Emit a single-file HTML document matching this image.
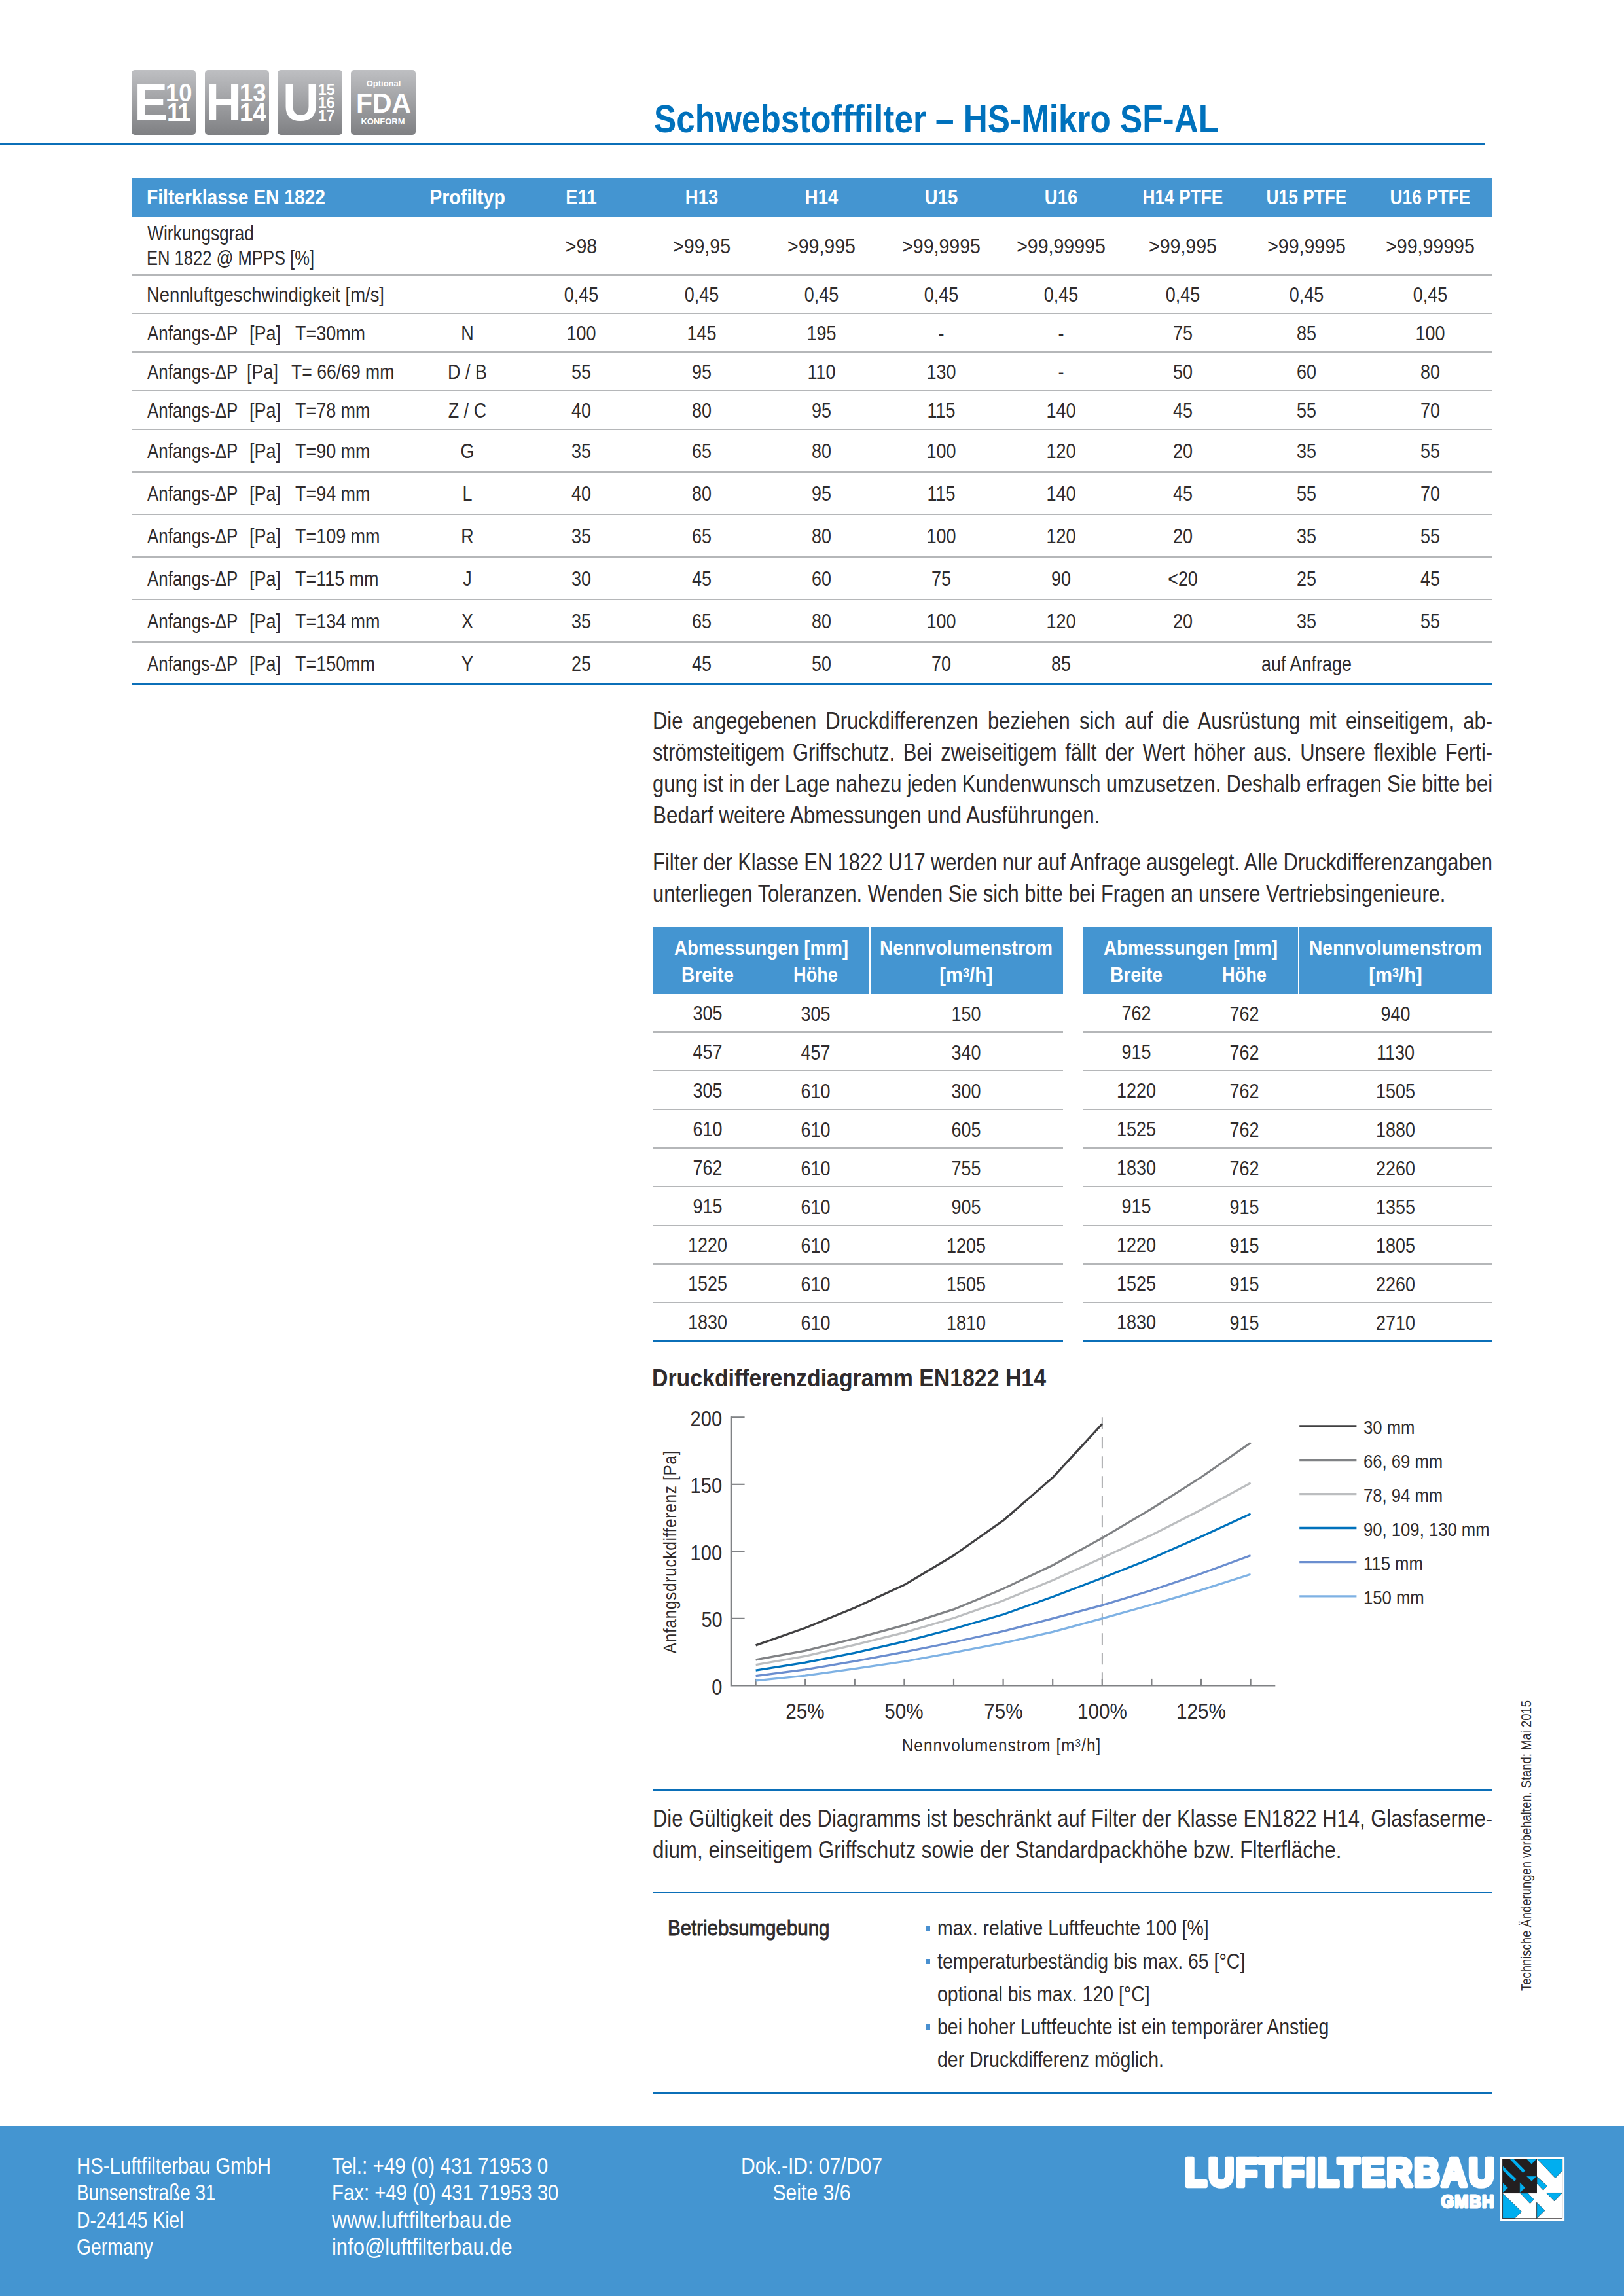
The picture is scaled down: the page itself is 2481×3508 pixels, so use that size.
<!DOCTYPE html>
<html lang="de"><head><meta charset="utf-8"><title>Schwebstofffilter – HS-Mikro SF-AL</title>
<style>
html,body{margin:0;padding:0;background:#fff}
#pg{position:relative;width:2481px;height:3508px;overflow:hidden;background:#fff;font-family:"Liberation Sans", sans-serif;}
.t{position:absolute;white-space:nowrap;line-height:1}
</style></head><body><div id="pg">
<div style="position:absolute;left:200.8px;top:107px;width:98.6px;height:99px;border-radius:5px;background:linear-gradient(#bebfc2,#a2a3a6 45%,#7f8083)"></div>
<div style="position:absolute;left:312.7px;top:107px;width:98.6px;height:99px;border-radius:5px;background:linear-gradient(#bebfc2,#a2a3a6 45%,#7f8083)"></div>
<div style="position:absolute;left:424.3px;top:107px;width:98.6px;height:99px;border-radius:5px;background:linear-gradient(#bebfc2,#a2a3a6 45%,#7f8083)"></div>
<div style="position:absolute;left:536.0px;top:107px;width:98.6px;height:99px;border-radius:5px;background:linear-gradient(#bebfc2,#a2a3a6 45%,#7f8083)"></div>
<div style="position:absolute;left:0px;top:218.2px;width:2268px;height:2.6px;background:#0b6fb8;"></div>
<div style="position:absolute;left:200.5px;top:271.8px;width:2079.0px;height:59.1px;background:#4495d1;"></div>
<div style="position:absolute;left:200.5px;top:418.75px;width:2079.0px;height:2.3px;background:#b5b7b9;"></div>
<div style="position:absolute;left:200.5px;top:477.75px;width:2079.0px;height:2.3px;background:#b5b7b9;"></div>
<div style="position:absolute;left:200.5px;top:536.85px;width:2079.0px;height:2.3px;background:#b5b7b9;"></div>
<div style="position:absolute;left:200.5px;top:595.75px;width:2079.0px;height:2.3px;background:#b5b7b9;"></div>
<div style="position:absolute;left:200.5px;top:654.85px;width:2079.0px;height:2.3px;background:#b5b7b9;"></div>
<div style="position:absolute;left:200.5px;top:719.95px;width:2079.0px;height:2.3px;background:#b5b7b9;"></div>
<div style="position:absolute;left:200.5px;top:784.75px;width:2079.0px;height:2.3px;background:#b5b7b9;"></div>
<div style="position:absolute;left:200.5px;top:849.65px;width:2079.0px;height:2.3px;background:#b5b7b9;"></div>
<div style="position:absolute;left:200.5px;top:914.95px;width:2079.0px;height:2.3px;background:#b5b7b9;"></div>
<div style="position:absolute;left:200.5px;top:980.25px;width:2079.0px;height:2.3px;background:#b5b7b9;"></div>
<div style="position:absolute;left:200.5px;top:1044.45px;width:2079.0px;height:2.5px;background:#0b6fb8;"></div>
<div style="position:absolute;left:998.2px;top:1417.2px;width:626px;height:100.5px;background:#4495d1;"></div>
<div style="position:absolute;left:1327.7px;top:1417.2px;width:2px;height:100.5px;background:#fff;"></div>
<div style="position:absolute;left:998.2px;top:1575.6px;width:626.0px;height:2.3px;background:#b5b7b9;"></div>
<div style="position:absolute;left:998.2px;top:1634.6499999999999px;width:626.0px;height:2.3px;background:#b5b7b9;"></div>
<div style="position:absolute;left:998.2px;top:1693.6999999999998px;width:626.0px;height:2.3px;background:#b5b7b9;"></div>
<div style="position:absolute;left:998.2px;top:1752.7499999999998px;width:626.0px;height:2.3px;background:#b5b7b9;"></div>
<div style="position:absolute;left:998.2px;top:1811.8px;width:626.0px;height:2.3px;background:#b5b7b9;"></div>
<div style="position:absolute;left:998.2px;top:1870.85px;width:626.0px;height:2.3px;background:#b5b7b9;"></div>
<div style="position:absolute;left:998.2px;top:1929.8999999999999px;width:626.0px;height:2.3px;background:#b5b7b9;"></div>
<div style="position:absolute;left:998.2px;top:1988.9499999999998px;width:626.0px;height:2.3px;background:#b5b7b9;"></div>
<div style="position:absolute;left:998.2px;top:2047.9px;width:626.0px;height:2.5px;background:#0b6fb8;"></div>
<div style="position:absolute;left:1653.6px;top:1417.2px;width:626px;height:100.5px;background:#4495d1;"></div>
<div style="position:absolute;left:1983.1px;top:1417.2px;width:2px;height:100.5px;background:#fff;"></div>
<div style="position:absolute;left:1653.6px;top:1575.6px;width:626.0px;height:2.3px;background:#b5b7b9;"></div>
<div style="position:absolute;left:1653.6px;top:1634.6499999999999px;width:626.0px;height:2.3px;background:#b5b7b9;"></div>
<div style="position:absolute;left:1653.6px;top:1693.6999999999998px;width:626.0px;height:2.3px;background:#b5b7b9;"></div>
<div style="position:absolute;left:1653.6px;top:1752.7499999999998px;width:626.0px;height:2.3px;background:#b5b7b9;"></div>
<div style="position:absolute;left:1653.6px;top:1811.8px;width:626.0px;height:2.3px;background:#b5b7b9;"></div>
<div style="position:absolute;left:1653.6px;top:1870.85px;width:626.0px;height:2.3px;background:#b5b7b9;"></div>
<div style="position:absolute;left:1653.6px;top:1929.8999999999999px;width:626.0px;height:2.3px;background:#b5b7b9;"></div>
<div style="position:absolute;left:1653.6px;top:1988.9499999999998px;width:626.0px;height:2.3px;background:#b5b7b9;"></div>
<div style="position:absolute;left:1653.6px;top:2047.9px;width:626.0px;height:2.5px;background:#0b6fb8;"></div>
<svg style="position:absolute;left:0;top:2100px" width="2481" height="640" viewBox="0 2100 2481 640" fill="none"><path d="M1116.9 2164.3V2575.4H1948.3" stroke="#808285" stroke-width="2.4"/><path d="M1116.9 2472.875h20.7" stroke="#808285" stroke-width="2.2"/><path d="M1116.9 2370.35h20.7" stroke="#808285" stroke-width="2.2"/><path d="M1116.9 2267.8250000000003h20.7" stroke="#808285" stroke-width="2.2"/><path d="M1116.9 2165.3h20.7" stroke="#808285" stroke-width="2.2"/><path d="M1154.6 2575.4v-10.5" stroke="#808285" stroke-width="2.2"/><path d="M1230.2 2575.4v-10.5" stroke="#808285" stroke-width="2.2"/><path d="M1305.8 2575.4v-10.5" stroke="#808285" stroke-width="2.2"/><path d="M1381.4 2575.4v-10.5" stroke="#808285" stroke-width="2.2"/><path d="M1457.0 2575.4v-10.5" stroke="#808285" stroke-width="2.2"/><path d="M1532.6 2575.4v-10.5" stroke="#808285" stroke-width="2.2"/><path d="M1608.2 2575.4v-10.5" stroke="#808285" stroke-width="2.2"/><path d="M1683.8 2575.4v-10.5" stroke="#808285" stroke-width="2.2"/><path d="M1759.4 2575.4v-10.5" stroke="#808285" stroke-width="2.2"/><path d="M1835.0 2575.4v-10.5" stroke="#808285" stroke-width="2.2"/><path d="M1910.6 2575.4v-10.5" stroke="#808285" stroke-width="2.2"/><path d="M1683.8 2165.3V2575.4" stroke="#939598" stroke-width="1.8" stroke-dasharray="18 12"/><polyline points="1154.6,2513.9 1230.2,2487.2 1305.8,2456.5 1381.4,2421.6 1457.0,2376.5 1532.6,2323.2 1608.2,2257.6 1683.8,2175.6" stroke="#414042" stroke-width="3.25" stroke-linejoin="round" stroke-linecap="butt"/><polyline points="1154.6,2535.8 1230.2,2522.1 1305.8,2503.6 1381.4,2483.1 1457.0,2458.9 1532.6,2427.4 1608.2,2391.5 1683.8,2349.8 1759.4,2305.1 1835.0,2257.0 1910.6,2204.3" stroke="#808285" stroke-width="3.25" stroke-linejoin="round" stroke-linecap="butt"/><polyline points="1154.6,2543.6 1230.2,2530.3 1305.8,2513.1 1381.4,2494.4 1457.0,2472.3 1532.6,2445.6 1608.2,2414.4 1683.8,2380.2 1759.4,2345.3 1835.0,2306.8 1910.6,2265.8" stroke="#bcbec0" stroke-width="3.25" stroke-linejoin="round" stroke-linecap="butt"/><polyline points="1154.6,2552.2 1230.2,2540.1 1305.8,2525.4 1381.4,2508.1 1457.0,2488.5 1532.6,2466.7 1608.2,2439.7 1683.8,2410.9 1759.4,2381.0 1835.0,2347.8 1910.6,2312.9" stroke="#0072bc" stroke-width="3.25" stroke-linejoin="round" stroke-linecap="butt"/><polyline points="1154.6,2560.6 1230.2,2550.8 1305.8,2538.1 1381.4,2524.1 1457.0,2509.0 1532.6,2492.4 1608.2,2472.9 1683.8,2452.6 1759.4,2429.8 1835.0,2404.2 1910.6,2376.5" stroke="#6b8ecf" stroke-width="3.25" stroke-linejoin="round" stroke-linecap="butt"/><polyline points="1154.6,2567.8 1230.2,2560.2 1305.8,2549.6 1381.4,2538.5 1457.0,2524.8 1532.6,2510.4 1608.2,2493.4 1683.8,2472.9 1759.4,2451.8 1835.0,2429.4 1910.6,2405.2" stroke="#7fb2e4" stroke-width="3.25" stroke-linejoin="round" stroke-linecap="butt"/><path d="M1985.2 2178.8H2072.4" stroke="#414042" stroke-width="3.3"/><path d="M1985.2 2230.6H2072.4" stroke="#808285" stroke-width="3.3"/><path d="M1985.2 2282.7H2072.4" stroke="#bcbec0" stroke-width="3.3"/><path d="M1985.2 2334.5H2072.4" stroke="#0072bc" stroke-width="3.3"/><path d="M1985.2 2386.7H2072.4" stroke="#6b8ecf" stroke-width="3.3"/><path d="M1985.2 2438.9H2072.4" stroke="#7fb2e4" stroke-width="3.3"/></svg>
<div style="position:absolute;left:998px;top:2733.35px;width:1281.3000000000002px;height:2.3px;background:#0b6fb8;"></div>
<div style="position:absolute;left:998px;top:2890.25px;width:1281.3000000000002px;height:2.3px;background:#0b6fb8;"></div>
<div style="position:absolute;left:998px;top:3196.65px;width:1281.3000000000002px;height:2.3px;background:#0b6fb8;"></div>
<div style="position:absolute;left:1414px;top:2943.1000000000004px;width:7.2px;height:7.2px;background:#4a90d0;"></div>
<div style="position:absolute;left:1414px;top:2993.4px;width:7.2px;height:7.2px;background:#4a90d0;"></div>
<div style="position:absolute;left:1414px;top:3093.4px;width:7.2px;height:7.2px;background:#4a90d0;"></div>
<div style="position:absolute;left:0px;top:3248px;width:2481px;height:260px;background:#4495d1;"></div>
<svg style="position:absolute;left:1780px;top:3270px;overflow:visible" width="520" height="120" viewBox="1780 3270 520 120" font-family='"Liberation Sans", sans-serif' font-weight="700" fill="#fff" stroke="#fff" stroke-linejoin="round"><text transform="translate(1810.2,3339.8) scale(0.905,1)" font-size="60.3" stroke-width="6.5" letter-spacing="2.6">LUFTFILTERBAU</text><text transform="translate(2201.5,3372.6) scale(0.94,1)" font-size="27" stroke-width="3.1" letter-spacing="1.2">GMBH</text></svg>
<svg style="position:absolute;left:2280px;top:3285px" width="120" height="120" viewBox="0 0 1624 1624"><rect x="163" y="140" width="1327" height="1322" fill="#fff"/><rect x="207" y="182" width="713" height="708" fill="#231f20"/><polygon points="355,186 445,186 682,425 630,472" fill="#00aeef" stroke="#231f20" stroke-width="7" stroke-linejoin="miter"/><polygon points="211,325 500,602 455,650 211,420" fill="#00aeef" stroke="#231f20" stroke-width="7" stroke-linejoin="miter"/><polygon points="705,186 912,186 810,296" fill="#00aeef" stroke="#231f20" stroke-width="7" stroke-linejoin="miter"/><polygon points="700,540 916,540 810,650" fill="#00aeef" stroke="#231f20" stroke-width="7" stroke-linejoin="miter"/><polygon points="211,675 325,780 211,886" fill="#00aeef" stroke="#231f20" stroke-width="7" stroke-linejoin="miter"/><polygon points="565,665 680,780 565,886" fill="#00aeef" stroke="#231f20" stroke-width="7" stroke-linejoin="miter"/><polygon points="925,186 1443,186 1443,430 1300,578" fill="#00aeef" stroke="#231f20" stroke-width="7" stroke-linejoin="miter"/><polygon points="921,552 1135,745 1050,830 921,692" fill="#00aeef" stroke="#231f20" stroke-width="7" stroke-linejoin="miter"/><polygon points="211,895 605,1275 460,1414 211,1414" fill="#00aeef" stroke="#231f20" stroke-width="7" stroke-linejoin="miter"/><polygon points="575,890 732,890 856,1022 778,1108" fill="#00aeef" stroke="#231f20" stroke-width="7" stroke-linejoin="miter"/><polygon points="1115,886 1443,886 1280,1055" fill="#00aeef" stroke="#231f20" stroke-width="7" stroke-linejoin="miter"/><polygon points="915,1085 1085,1250 915,1414" fill="#00aeef" stroke="#231f20" stroke-width="7" stroke-linejoin="miter"/><path d="M207 888H920M1110 888H1445M915 1085V1415" stroke="#231f20" stroke-width="7" fill="none"/><rect x="207" y="182" width="1238" height="1233" fill="none" stroke="#231f20" stroke-width="9"/></svg>
<span class="t" style="font-size:79.6px;font-weight:700;color:#fff;left:204.58px;top:117.00px;transform-origin:0 0;transform:scaleX(0.9610);">E</span>
<span class="t" style="font-size:38.5px;font-weight:700;color:#fff;left:253.10px;top:123.00px;transform-origin:0 0;transform:scaleX(0.9450);">10</span>
<span class="t" style="font-size:38.5px;font-weight:700;color:#fff;letter-spacing:-2.200px;left:255.00px;top:153.00px;transform-origin:0 0;transform:scaleX(0.9450);">11</span>
<span class="t" style="font-size:79.6px;font-weight:700;color:#fff;left:314.18px;top:117.00px;transform-origin:0 0;transform:scaleX(0.9610);">H</span>
<span class="t" style="font-size:38.5px;font-weight:700;color:#fff;left:366.30px;top:123.00px;transform-origin:0 0;transform:scaleX(0.9450);">13</span>
<span class="t" style="font-size:38.5px;font-weight:700;color:#fff;left:366.30px;top:153.00px;transform-origin:0 0;transform:scaleX(0.9450);">14</span>
<span class="t" style="font-size:79.6px;font-weight:700;color:#fff;left:431.55px;top:117.00px;transform-origin:0 0;transform:scaleX(0.9610);">U</span>
<span class="t" style="font-size:23.7px;font-weight:700;color:#fff;left:485.70px;top:126.00px;transform-origin:0 0;transform:scaleX(0.9700);">15</span>
<span class="t" style="font-size:23.7px;font-weight:700;color:#fff;left:485.70px;top:146.00px;transform-origin:0 0;transform:scaleX(0.9700);">16</span>
<span class="t" style="font-size:23.7px;font-weight:700;color:#fff;left:485.70px;top:166.00px;transform-origin:0 0;transform:scaleX(0.9700);">17</span>
<span class="t" style="font-size:13.5px;font-weight:700;color:#fff;left:585.50px;top:121.00px;transform:translateX(-50%) scaleX(0.9610);">Optional</span>
<span class="t" style="font-size:42.6px;font-weight:700;color:#fff;left:585.80px;top:136.00px;transform:translateX(-50%) scaleX(0.9610);">FDA</span>
<span class="t" style="font-size:13.5px;font-weight:700;color:#fff;left:585.40px;top:179.00px;transform:translateX(-50%) scaleX(0.9610);">KONFORM</span>
<span class="t" style="font-size:60px;font-weight:700;color:#0071bc;left:999.00px;top:152.00px;transform-origin:0 0;transform:scaleX(0.8544);">Schwebstofffilter – HS-Mikro SF-AL</span>
<span class="t" style="font-size:31.5px;font-weight:700;color:#fff;left:223.80px;top:286.00px;transform-origin:0 0;transform:scaleX(0.8960);">Filterklasse EN 1822</span>
<span class="t" style="font-size:31.5px;font-weight:700;color:#fff;left:714.00px;top:286.00px;transform:translateX(-50%) scaleX(0.9048);">Profiltyp</span>
<span class="t" style="font-size:31.5px;font-weight:700;color:#fff;left:888.00px;top:286.00px;transform:translateX(-50%) scaleX(0.8700);">E11</span>
<span class="t" style="font-size:31.5px;font-weight:700;color:#fff;left:1071.50px;top:286.00px;transform:translateX(-50%) scaleX(0.8700);">H13</span>
<span class="t" style="font-size:31.5px;font-weight:700;color:#fff;left:1254.60px;top:286.00px;transform:translateX(-50%) scaleX(0.8700);">H14</span>
<span class="t" style="font-size:31.5px;font-weight:700;color:#fff;left:1438.00px;top:286.00px;transform:translateX(-50%) scaleX(0.8700);">U15</span>
<span class="t" style="font-size:31.5px;font-weight:700;color:#fff;left:1621.30px;top:286.00px;transform:translateX(-50%) scaleX(0.8700);">U16</span>
<span class="t" style="font-size:31.5px;font-weight:700;color:#fff;left:1807.00px;top:286.00px;transform:translateX(-50%) scaleX(0.8350);">H14 PTFE</span>
<span class="t" style="font-size:31.5px;font-weight:700;color:#fff;left:1996.00px;top:286.00px;transform:translateX(-50%) scaleX(0.8350);">U15 PTFE</span>
<span class="t" style="font-size:31.5px;font-weight:700;color:#fff;left:2185.00px;top:286.00px;transform:translateX(-50%) scaleX(0.8350);">U16 PTFE</span>
<span class="t" style="font-size:31.5px;font-weight:400;color:#2f2b2c;left:224.60px;top:341.00px;transform-origin:0 0;transform:scaleX(0.8388);">Wirkungsgrad</span>
<span class="t" style="font-size:31.5px;font-weight:400;color:#2f2b2c;left:224.20px;top:379.00px;transform-origin:0 0;transform:scaleX(0.8111);">EN 1822 @ MPPS [%]</span>
<span class="t" style="font-size:31.5px;font-weight:400;color:#2f2b2c;left:888.00px;top:361.00px;transform:translateX(-50%) scaleX(0.9050);">&gt;98</span>
<span class="t" style="font-size:31.5px;font-weight:400;color:#2f2b2c;left:1071.50px;top:361.00px;transform:translateX(-50%) scaleX(0.9050);">&gt;99,95</span>
<span class="t" style="font-size:31.5px;font-weight:400;color:#2f2b2c;left:1254.60px;top:361.00px;transform:translateX(-50%) scaleX(0.9050);">&gt;99,995</span>
<span class="t" style="font-size:31.5px;font-weight:400;color:#2f2b2c;left:1438.00px;top:361.00px;transform:translateX(-50%) scaleX(0.9050);">&gt;99,9995</span>
<span class="t" style="font-size:31.5px;font-weight:400;color:#2f2b2c;left:1621.30px;top:361.00px;transform:translateX(-50%) scaleX(0.9050);">&gt;99,99995</span>
<span class="t" style="font-size:31.5px;font-weight:400;color:#2f2b2c;left:1807.00px;top:361.00px;transform:translateX(-50%) scaleX(0.9050);">&gt;99,995</span>
<span class="t" style="font-size:31.5px;font-weight:400;color:#2f2b2c;left:1996.00px;top:361.00px;transform:translateX(-50%) scaleX(0.9050);">&gt;99,9995</span>
<span class="t" style="font-size:31.5px;font-weight:400;color:#2f2b2c;left:2185.00px;top:361.00px;transform:translateX(-50%) scaleX(0.9050);">&gt;99,99995</span>
<span class="t" style="font-size:31.5px;font-weight:400;color:#2f2b2c;left:224.00px;top:435.00px;transform-origin:0 0;transform:scaleX(0.8711);">Nennluftgeschwindigkeit [m/s]</span>
<span class="t" style="font-size:31.5px;font-weight:400;color:#2f2b2c;left:888.00px;top:435.00px;transform:translateX(-50%) scaleX(0.8550);">0,45</span>
<span class="t" style="font-size:31.5px;font-weight:400;color:#2f2b2c;left:1071.50px;top:435.00px;transform:translateX(-50%) scaleX(0.8550);">0,45</span>
<span class="t" style="font-size:31.5px;font-weight:400;color:#2f2b2c;left:1254.60px;top:435.00px;transform:translateX(-50%) scaleX(0.8550);">0,45</span>
<span class="t" style="font-size:31.5px;font-weight:400;color:#2f2b2c;left:1438.00px;top:435.00px;transform:translateX(-50%) scaleX(0.8550);">0,45</span>
<span class="t" style="font-size:31.5px;font-weight:400;color:#2f2b2c;left:1621.30px;top:435.00px;transform:translateX(-50%) scaleX(0.8550);">0,45</span>
<span class="t" style="font-size:31.5px;font-weight:400;color:#2f2b2c;left:1807.00px;top:435.00px;transform:translateX(-50%) scaleX(0.8550);">0,45</span>
<span class="t" style="font-size:31.5px;font-weight:400;color:#2f2b2c;left:1996.00px;top:435.00px;transform:translateX(-50%) scaleX(0.8550);">0,45</span>
<span class="t" style="font-size:31.5px;font-weight:400;color:#2f2b2c;left:2185.00px;top:435.00px;transform:translateX(-50%) scaleX(0.8550);">0,45</span>
<span class="t" style="font-size:31.5px;font-weight:400;color:#2f2b2c;left:225.40px;top:494.00px;transform-origin:0 0;transform:scaleX(0.8231);">Anfangs-ΔP</span>
<span class="t" style="font-size:31.5px;font-weight:400;color:#2f2b2c;left:381.00px;top:494.00px;transform-origin:0 0;transform:scaleX(0.8550);">[Pa]</span>
<span class="t" style="font-size:31.5px;font-weight:400;color:#2f2b2c;left:450.50px;top:494.00px;transform-origin:0 0;transform:scaleX(0.8550);">T=30mm</span>
<span class="t" style="font-size:31.5px;font-weight:400;color:#2f2b2c;left:714.00px;top:494.00px;transform:translateX(-50%) scaleX(0.8550);">N</span>
<span class="t" style="font-size:31.5px;font-weight:400;color:#2f2b2c;left:888.00px;top:494.00px;transform:translateX(-50%) scaleX(0.8550);">100</span>
<span class="t" style="font-size:31.5px;font-weight:400;color:#2f2b2c;left:1071.50px;top:494.00px;transform:translateX(-50%) scaleX(0.8550);">145</span>
<span class="t" style="font-size:31.5px;font-weight:400;color:#2f2b2c;left:1254.60px;top:494.00px;transform:translateX(-50%) scaleX(0.8550);">195</span>
<span class="t" style="font-size:31.5px;font-weight:400;color:#2f2b2c;left:1438.00px;top:494.00px;transform:translateX(-50%) scaleX(0.8550);">-</span>
<span class="t" style="font-size:31.5px;font-weight:400;color:#2f2b2c;left:1621.30px;top:494.00px;transform:translateX(-50%) scaleX(0.8550);">-</span>
<span class="t" style="font-size:31.5px;font-weight:400;color:#2f2b2c;left:1807.00px;top:494.00px;transform:translateX(-50%) scaleX(0.8550);">75</span>
<span class="t" style="font-size:31.5px;font-weight:400;color:#2f2b2c;left:1996.00px;top:494.00px;transform:translateX(-50%) scaleX(0.8550);">85</span>
<span class="t" style="font-size:31.5px;font-weight:400;color:#2f2b2c;left:2185.00px;top:494.00px;transform:translateX(-50%) scaleX(0.8550);">100</span>
<span class="t" style="font-size:31.5px;font-weight:400;color:#2f2b2c;left:225.40px;top:553.00px;transform-origin:0 0;transform:scaleX(0.8231);">Anfangs-ΔP</span>
<span class="t" style="font-size:31.5px;font-weight:400;color:#2f2b2c;left:377.00px;top:553.00px;transform-origin:0 0;transform:scaleX(0.8550);">[Pa]</span>
<span class="t" style="font-size:31.5px;font-weight:400;color:#2f2b2c;left:444.60px;top:553.00px;transform-origin:0 0;transform:scaleX(0.8442);">T= 66/69 mm</span>
<span class="t" style="font-size:31.5px;font-weight:400;color:#2f2b2c;left:714.00px;top:553.00px;transform:translateX(-50%) scaleX(0.8550);">D / B</span>
<span class="t" style="font-size:31.5px;font-weight:400;color:#2f2b2c;left:888.00px;top:553.00px;transform:translateX(-50%) scaleX(0.8550);">55</span>
<span class="t" style="font-size:31.5px;font-weight:400;color:#2f2b2c;left:1071.50px;top:553.00px;transform:translateX(-50%) scaleX(0.8550);">95</span>
<span class="t" style="font-size:31.5px;font-weight:400;color:#2f2b2c;left:1254.60px;top:553.00px;transform:translateX(-50%) scaleX(0.8550);">110</span>
<span class="t" style="font-size:31.5px;font-weight:400;color:#2f2b2c;left:1438.00px;top:553.00px;transform:translateX(-50%) scaleX(0.8550);">130</span>
<span class="t" style="font-size:31.5px;font-weight:400;color:#2f2b2c;left:1621.30px;top:553.00px;transform:translateX(-50%) scaleX(0.8550);">-</span>
<span class="t" style="font-size:31.5px;font-weight:400;color:#2f2b2c;left:1807.00px;top:553.00px;transform:translateX(-50%) scaleX(0.8550);">50</span>
<span class="t" style="font-size:31.5px;font-weight:400;color:#2f2b2c;left:1996.00px;top:553.00px;transform:translateX(-50%) scaleX(0.8550);">60</span>
<span class="t" style="font-size:31.5px;font-weight:400;color:#2f2b2c;left:2185.00px;top:553.00px;transform:translateX(-50%) scaleX(0.8550);">80</span>
<span class="t" style="font-size:31.5px;font-weight:400;color:#2f2b2c;left:225.40px;top:612.00px;transform-origin:0 0;transform:scaleX(0.8231);">Anfangs-ΔP</span>
<span class="t" style="font-size:31.5px;font-weight:400;color:#2f2b2c;left:381.00px;top:612.00px;transform-origin:0 0;transform:scaleX(0.8550);">[Pa]</span>
<span class="t" style="font-size:31.5px;font-weight:400;color:#2f2b2c;left:450.50px;top:612.00px;transform-origin:0 0;transform:scaleX(0.8550);">T=78 mm</span>
<span class="t" style="font-size:31.5px;font-weight:400;color:#2f2b2c;left:714.00px;top:612.00px;transform:translateX(-50%) scaleX(0.8550);">Z / C</span>
<span class="t" style="font-size:31.5px;font-weight:400;color:#2f2b2c;left:888.00px;top:612.00px;transform:translateX(-50%) scaleX(0.8550);">40</span>
<span class="t" style="font-size:31.5px;font-weight:400;color:#2f2b2c;left:1071.50px;top:612.00px;transform:translateX(-50%) scaleX(0.8550);">80</span>
<span class="t" style="font-size:31.5px;font-weight:400;color:#2f2b2c;left:1254.60px;top:612.00px;transform:translateX(-50%) scaleX(0.8550);">95</span>
<span class="t" style="font-size:31.5px;font-weight:400;color:#2f2b2c;left:1438.00px;top:612.00px;transform:translateX(-50%) scaleX(0.8550);">115</span>
<span class="t" style="font-size:31.5px;font-weight:400;color:#2f2b2c;left:1621.30px;top:612.00px;transform:translateX(-50%) scaleX(0.8550);">140</span>
<span class="t" style="font-size:31.5px;font-weight:400;color:#2f2b2c;left:1807.00px;top:612.00px;transform:translateX(-50%) scaleX(0.8550);">45</span>
<span class="t" style="font-size:31.5px;font-weight:400;color:#2f2b2c;left:1996.00px;top:612.00px;transform:translateX(-50%) scaleX(0.8550);">55</span>
<span class="t" style="font-size:31.5px;font-weight:400;color:#2f2b2c;left:2185.00px;top:612.00px;transform:translateX(-50%) scaleX(0.8550);">70</span>
<span class="t" style="font-size:31.5px;font-weight:400;color:#2f2b2c;left:225.40px;top:674.00px;transform-origin:0 0;transform:scaleX(0.8231);">Anfangs-ΔP</span>
<span class="t" style="font-size:31.5px;font-weight:400;color:#2f2b2c;left:381.00px;top:674.00px;transform-origin:0 0;transform:scaleX(0.8550);">[Pa]</span>
<span class="t" style="font-size:31.5px;font-weight:400;color:#2f2b2c;left:450.50px;top:674.00px;transform-origin:0 0;transform:scaleX(0.8550);">T=90 mm</span>
<span class="t" style="font-size:31.5px;font-weight:400;color:#2f2b2c;left:714.00px;top:674.00px;transform:translateX(-50%) scaleX(0.8550);">G</span>
<span class="t" style="font-size:31.5px;font-weight:400;color:#2f2b2c;left:888.00px;top:674.00px;transform:translateX(-50%) scaleX(0.8550);">35</span>
<span class="t" style="font-size:31.5px;font-weight:400;color:#2f2b2c;left:1071.50px;top:674.00px;transform:translateX(-50%) scaleX(0.8550);">65</span>
<span class="t" style="font-size:31.5px;font-weight:400;color:#2f2b2c;left:1254.60px;top:674.00px;transform:translateX(-50%) scaleX(0.8550);">80</span>
<span class="t" style="font-size:31.5px;font-weight:400;color:#2f2b2c;left:1438.00px;top:674.00px;transform:translateX(-50%) scaleX(0.8550);">100</span>
<span class="t" style="font-size:31.5px;font-weight:400;color:#2f2b2c;left:1621.30px;top:674.00px;transform:translateX(-50%) scaleX(0.8550);">120</span>
<span class="t" style="font-size:31.5px;font-weight:400;color:#2f2b2c;left:1807.00px;top:674.00px;transform:translateX(-50%) scaleX(0.8550);">20</span>
<span class="t" style="font-size:31.5px;font-weight:400;color:#2f2b2c;left:1996.00px;top:674.00px;transform:translateX(-50%) scaleX(0.8550);">35</span>
<span class="t" style="font-size:31.5px;font-weight:400;color:#2f2b2c;left:2185.00px;top:674.00px;transform:translateX(-50%) scaleX(0.8550);">55</span>
<span class="t" style="font-size:31.5px;font-weight:400;color:#2f2b2c;left:225.40px;top:739.00px;transform-origin:0 0;transform:scaleX(0.8231);">Anfangs-ΔP</span>
<span class="t" style="font-size:31.5px;font-weight:400;color:#2f2b2c;left:381.00px;top:739.00px;transform-origin:0 0;transform:scaleX(0.8550);">[Pa]</span>
<span class="t" style="font-size:31.5px;font-weight:400;color:#2f2b2c;left:450.50px;top:739.00px;transform-origin:0 0;transform:scaleX(0.8550);">T=94 mm</span>
<span class="t" style="font-size:31.5px;font-weight:400;color:#2f2b2c;left:714.00px;top:739.00px;transform:translateX(-50%) scaleX(0.8550);">L</span>
<span class="t" style="font-size:31.5px;font-weight:400;color:#2f2b2c;left:888.00px;top:739.00px;transform:translateX(-50%) scaleX(0.8550);">40</span>
<span class="t" style="font-size:31.5px;font-weight:400;color:#2f2b2c;left:1071.50px;top:739.00px;transform:translateX(-50%) scaleX(0.8550);">80</span>
<span class="t" style="font-size:31.5px;font-weight:400;color:#2f2b2c;left:1254.60px;top:739.00px;transform:translateX(-50%) scaleX(0.8550);">95</span>
<span class="t" style="font-size:31.5px;font-weight:400;color:#2f2b2c;left:1438.00px;top:739.00px;transform:translateX(-50%) scaleX(0.8550);">115</span>
<span class="t" style="font-size:31.5px;font-weight:400;color:#2f2b2c;left:1621.30px;top:739.00px;transform:translateX(-50%) scaleX(0.8550);">140</span>
<span class="t" style="font-size:31.5px;font-weight:400;color:#2f2b2c;left:1807.00px;top:739.00px;transform:translateX(-50%) scaleX(0.8550);">45</span>
<span class="t" style="font-size:31.5px;font-weight:400;color:#2f2b2c;left:1996.00px;top:739.00px;transform:translateX(-50%) scaleX(0.8550);">55</span>
<span class="t" style="font-size:31.5px;font-weight:400;color:#2f2b2c;left:2185.00px;top:739.00px;transform:translateX(-50%) scaleX(0.8550);">70</span>
<span class="t" style="font-size:31.5px;font-weight:400;color:#2f2b2c;left:225.40px;top:804.00px;transform-origin:0 0;transform:scaleX(0.8231);">Anfangs-ΔP</span>
<span class="t" style="font-size:31.5px;font-weight:400;color:#2f2b2c;left:381.00px;top:804.00px;transform-origin:0 0;transform:scaleX(0.8550);">[Pa]</span>
<span class="t" style="font-size:31.5px;font-weight:400;color:#2f2b2c;left:450.50px;top:804.00px;transform-origin:0 0;transform:scaleX(0.8550);">T=109 mm</span>
<span class="t" style="font-size:31.5px;font-weight:400;color:#2f2b2c;left:714.00px;top:804.00px;transform:translateX(-50%) scaleX(0.8550);">R</span>
<span class="t" style="font-size:31.5px;font-weight:400;color:#2f2b2c;left:888.00px;top:804.00px;transform:translateX(-50%) scaleX(0.8550);">35</span>
<span class="t" style="font-size:31.5px;font-weight:400;color:#2f2b2c;left:1071.50px;top:804.00px;transform:translateX(-50%) scaleX(0.8550);">65</span>
<span class="t" style="font-size:31.5px;font-weight:400;color:#2f2b2c;left:1254.60px;top:804.00px;transform:translateX(-50%) scaleX(0.8550);">80</span>
<span class="t" style="font-size:31.5px;font-weight:400;color:#2f2b2c;left:1438.00px;top:804.00px;transform:translateX(-50%) scaleX(0.8550);">100</span>
<span class="t" style="font-size:31.5px;font-weight:400;color:#2f2b2c;left:1621.30px;top:804.00px;transform:translateX(-50%) scaleX(0.8550);">120</span>
<span class="t" style="font-size:31.5px;font-weight:400;color:#2f2b2c;left:1807.00px;top:804.00px;transform:translateX(-50%) scaleX(0.8550);">20</span>
<span class="t" style="font-size:31.5px;font-weight:400;color:#2f2b2c;left:1996.00px;top:804.00px;transform:translateX(-50%) scaleX(0.8550);">35</span>
<span class="t" style="font-size:31.5px;font-weight:400;color:#2f2b2c;left:2185.00px;top:804.00px;transform:translateX(-50%) scaleX(0.8550);">55</span>
<span class="t" style="font-size:31.5px;font-weight:400;color:#2f2b2c;left:225.40px;top:869.00px;transform-origin:0 0;transform:scaleX(0.8231);">Anfangs-ΔP</span>
<span class="t" style="font-size:31.5px;font-weight:400;color:#2f2b2c;left:381.00px;top:869.00px;transform-origin:0 0;transform:scaleX(0.8550);">[Pa]</span>
<span class="t" style="font-size:31.5px;font-weight:400;color:#2f2b2c;left:450.50px;top:869.00px;transform-origin:0 0;transform:scaleX(0.8550);">T=115 mm</span>
<span class="t" style="font-size:31.5px;font-weight:400;color:#2f2b2c;left:714.00px;top:869.00px;transform:translateX(-50%) scaleX(0.8550);">J</span>
<span class="t" style="font-size:31.5px;font-weight:400;color:#2f2b2c;left:888.00px;top:869.00px;transform:translateX(-50%) scaleX(0.8550);">30</span>
<span class="t" style="font-size:31.5px;font-weight:400;color:#2f2b2c;left:1071.50px;top:869.00px;transform:translateX(-50%) scaleX(0.8550);">45</span>
<span class="t" style="font-size:31.5px;font-weight:400;color:#2f2b2c;left:1254.60px;top:869.00px;transform:translateX(-50%) scaleX(0.8550);">60</span>
<span class="t" style="font-size:31.5px;font-weight:400;color:#2f2b2c;left:1438.00px;top:869.00px;transform:translateX(-50%) scaleX(0.8550);">75</span>
<span class="t" style="font-size:31.5px;font-weight:400;color:#2f2b2c;left:1621.30px;top:869.00px;transform:translateX(-50%) scaleX(0.8550);">90</span>
<span class="t" style="font-size:31.5px;font-weight:400;color:#2f2b2c;left:1807.00px;top:869.00px;transform:translateX(-50%) scaleX(0.8550);">&lt;20</span>
<span class="t" style="font-size:31.5px;font-weight:400;color:#2f2b2c;left:1996.00px;top:869.00px;transform:translateX(-50%) scaleX(0.8550);">25</span>
<span class="t" style="font-size:31.5px;font-weight:400;color:#2f2b2c;left:2185.00px;top:869.00px;transform:translateX(-50%) scaleX(0.8550);">45</span>
<span class="t" style="font-size:31.5px;font-weight:400;color:#2f2b2c;left:225.40px;top:934.00px;transform-origin:0 0;transform:scaleX(0.8231);">Anfangs-ΔP</span>
<span class="t" style="font-size:31.5px;font-weight:400;color:#2f2b2c;left:381.00px;top:934.00px;transform-origin:0 0;transform:scaleX(0.8550);">[Pa]</span>
<span class="t" style="font-size:31.5px;font-weight:400;color:#2f2b2c;left:450.50px;top:934.00px;transform-origin:0 0;transform:scaleX(0.8550);">T=134 mm</span>
<span class="t" style="font-size:31.5px;font-weight:400;color:#2f2b2c;left:714.00px;top:934.00px;transform:translateX(-50%) scaleX(0.8550);">X</span>
<span class="t" style="font-size:31.5px;font-weight:400;color:#2f2b2c;left:888.00px;top:934.00px;transform:translateX(-50%) scaleX(0.8550);">35</span>
<span class="t" style="font-size:31.5px;font-weight:400;color:#2f2b2c;left:1071.50px;top:934.00px;transform:translateX(-50%) scaleX(0.8550);">65</span>
<span class="t" style="font-size:31.5px;font-weight:400;color:#2f2b2c;left:1254.60px;top:934.00px;transform:translateX(-50%) scaleX(0.8550);">80</span>
<span class="t" style="font-size:31.5px;font-weight:400;color:#2f2b2c;left:1438.00px;top:934.00px;transform:translateX(-50%) scaleX(0.8550);">100</span>
<span class="t" style="font-size:31.5px;font-weight:400;color:#2f2b2c;left:1621.30px;top:934.00px;transform:translateX(-50%) scaleX(0.8550);">120</span>
<span class="t" style="font-size:31.5px;font-weight:400;color:#2f2b2c;left:1807.00px;top:934.00px;transform:translateX(-50%) scaleX(0.8550);">20</span>
<span class="t" style="font-size:31.5px;font-weight:400;color:#2f2b2c;left:1996.00px;top:934.00px;transform:translateX(-50%) scaleX(0.8550);">35</span>
<span class="t" style="font-size:31.5px;font-weight:400;color:#2f2b2c;left:2185.00px;top:934.00px;transform:translateX(-50%) scaleX(0.8550);">55</span>
<span class="t" style="font-size:31.5px;font-weight:400;color:#2f2b2c;left:225.40px;top:999.00px;transform-origin:0 0;transform:scaleX(0.8231);">Anfangs-ΔP</span>
<span class="t" style="font-size:31.5px;font-weight:400;color:#2f2b2c;left:381.00px;top:999.00px;transform-origin:0 0;transform:scaleX(0.8550);">[Pa]</span>
<span class="t" style="font-size:31.5px;font-weight:400;color:#2f2b2c;left:450.50px;top:999.00px;transform-origin:0 0;transform:scaleX(0.8550);">T=150mm</span>
<span class="t" style="font-size:31.5px;font-weight:400;color:#2f2b2c;left:714.00px;top:999.00px;transform:translateX(-50%) scaleX(0.8550);">Y</span>
<span class="t" style="font-size:31.5px;font-weight:400;color:#2f2b2c;left:888.00px;top:999.00px;transform:translateX(-50%) scaleX(0.8550);">25</span>
<span class="t" style="font-size:31.5px;font-weight:400;color:#2f2b2c;left:1071.50px;top:999.00px;transform:translateX(-50%) scaleX(0.8550);">45</span>
<span class="t" style="font-size:31.5px;font-weight:400;color:#2f2b2c;left:1254.60px;top:999.00px;transform:translateX(-50%) scaleX(0.8550);">50</span>
<span class="t" style="font-size:31.5px;font-weight:400;color:#2f2b2c;left:1438.00px;top:999.00px;transform:translateX(-50%) scaleX(0.8550);">70</span>
<span class="t" style="font-size:31.5px;font-weight:400;color:#2f2b2c;left:1621.30px;top:999.00px;transform:translateX(-50%) scaleX(0.8550);">85</span>
<span class="t" style="font-size:31.5px;font-weight:400;color:#2f2b2c;left:1996.00px;top:999.00px;transform:translateX(-50%) scaleX(0.8550);">auf Anfrage</span>
<div style="position:absolute;left:997.2px;top:1084.00px;width:1491.98px;font-size:36px;font-weight:400;color:#2f2b2c;line-height:1;white-space:nowrap;text-align:justify;text-align-last:justify;transform-origin:0 0;transform:scaleX(0.86)">Die angegebenen Druckdifferenzen beziehen sich auf die Ausrüstung mit einseitigem, ab-</div>
<div style="position:absolute;left:997.2px;top:1132.00px;width:1491.98px;font-size:36px;font-weight:400;color:#2f2b2c;line-height:1;white-space:nowrap;text-align:justify;text-align-last:justify;transform-origin:0 0;transform:scaleX(0.86)">strömsteitigem Griffschutz. Bei zweiseitigem fällt der Wert höher aus. Unsere flexible Ferti-</div>
<div style="word-spacing:-0.688px;position:absolute;left:997.2px;top:1180.00px;width:1491.98px;font-size:36px;font-weight:400;color:#2f2b2c;line-height:1;white-space:nowrap;text-align:justify;text-align-last:justify;transform-origin:0 0;transform:scaleX(0.86)">gung ist in der Lage nahezu jeden Kundenwunsch umzusetzen. Deshalb erfragen Sie bitte bei</div>
<span class="t" style="font-size:36px;font-weight:400;color:#2f2b2c;left:997.20px;top:1228.00px;transform-origin:0 0;transform:scaleX(0.8734);">Bedarf weitere Abmessungen und Ausführungen.</span>
<div style="word-spacing:-0.656px;position:absolute;left:997.2px;top:1300.00px;width:1491.98px;font-size:36px;font-weight:400;color:#2f2b2c;line-height:1;white-space:nowrap;text-align:justify;text-align-last:justify;transform-origin:0 0;transform:scaleX(0.86)">Filter der Klasse EN 1822 U17 werden nur auf Anfrage ausgelegt. Alle Druckdifferenzangaben</div>
<span class="t" style="font-size:36px;font-weight:400;color:#2f2b2c;left:997.20px;top:1348.00px;transform-origin:0 0;transform:scaleX(0.8570);">unterliegen Toleranzen. Wenden Sie sich bitte bei Fragen an unsere Vertriebsingenieure.</span>
<div style="word-spacing:-0.185px;position:absolute;left:997.2px;top:2761.00px;width:1491.98px;font-size:36px;font-weight:400;color:#2f2b2c;line-height:1;white-space:nowrap;text-align:justify;text-align-last:justify;transform-origin:0 0;transform:scaleX(0.86)">Die Gültigkeit des Diagramms ist beschränkt auf Filter der Klasse EN1822 H14, Glasfaserme-</div>
<span class="t" style="font-size:36px;font-weight:400;color:#2f2b2c;left:997.20px;top:2809.00px;transform-origin:0 0;transform:scaleX(0.8713);">dium, einseitigem Griffschutz sowie der Standardpackhöhe bzw. Flterfläche.</span>
<span class="t" style="font-size:31.5px;font-weight:700;color:#fff;left:1163.20px;top:1433.00px;transform:translateX(-50%) scaleX(0.8785);">Abmessungen [mm]</span>
<span class="t" style="font-size:31.5px;font-weight:700;color:#fff;left:1080.70px;top:1474.00px;transform:translateX(-50%) scaleX(0.8959);">Breite</span>
<span class="t" style="font-size:31.5px;font-weight:700;color:#fff;left:1245.70px;top:1474.00px;transform:translateX(-50%) scaleX(0.8635);">Höhe</span>
<span class="t" style="font-size:31.5px;font-weight:700;color:#fff;left:1476.20px;top:1433.00px;transform:translateX(-50%) scaleX(0.8925);">Nennvolumenstrom</span>
<span class="t" style="font-size:31.5px;font-weight:700;color:#fff;left:1476.20px;top:1474.00px;transform:translateX(-50%) scaleX(0.9278);">[m<span style="font-size:62%;position:relative;top:-0.38em">3</span>/h]</span>
<span class="t" style="font-size:31.5px;font-weight:400;color:#2f2b2c;left:1080.70px;top:1533.00px;transform:translateX(-50%) scaleX(0.8550);">305</span>
<span class="t" style="font-size:31.5px;font-weight:400;color:#2f2b2c;left:1245.70px;top:1534.00px;transform:translateX(-50%) scaleX(0.8550);">305</span>
<span class="t" style="font-size:31.5px;font-weight:400;color:#2f2b2c;left:1476.20px;top:1534.00px;transform:translateX(-50%) scaleX(0.8550);">150</span>
<span class="t" style="font-size:31.5px;font-weight:400;color:#2f2b2c;left:1080.70px;top:1592.00px;transform:translateX(-50%) scaleX(0.8550);">457</span>
<span class="t" style="font-size:31.5px;font-weight:400;color:#2f2b2c;left:1245.70px;top:1593.00px;transform:translateX(-50%) scaleX(0.8550);">457</span>
<span class="t" style="font-size:31.5px;font-weight:400;color:#2f2b2c;left:1476.20px;top:1593.00px;transform:translateX(-50%) scaleX(0.8550);">340</span>
<span class="t" style="font-size:31.5px;font-weight:400;color:#2f2b2c;left:1080.70px;top:1651.00px;transform:translateX(-50%) scaleX(0.8550);">305</span>
<span class="t" style="font-size:31.5px;font-weight:400;color:#2f2b2c;left:1245.70px;top:1652.00px;transform:translateX(-50%) scaleX(0.8550);">610</span>
<span class="t" style="font-size:31.5px;font-weight:400;color:#2f2b2c;left:1476.20px;top:1652.00px;transform:translateX(-50%) scaleX(0.8550);">300</span>
<span class="t" style="font-size:31.5px;font-weight:400;color:#2f2b2c;left:1080.70px;top:1710.00px;transform:translateX(-50%) scaleX(0.8550);">610</span>
<span class="t" style="font-size:31.5px;font-weight:400;color:#2f2b2c;left:1245.70px;top:1711.00px;transform:translateX(-50%) scaleX(0.8550);">610</span>
<span class="t" style="font-size:31.5px;font-weight:400;color:#2f2b2c;left:1476.20px;top:1711.00px;transform:translateX(-50%) scaleX(0.8550);">605</span>
<span class="t" style="font-size:31.5px;font-weight:400;color:#2f2b2c;left:1080.70px;top:1769.00px;transform:translateX(-50%) scaleX(0.8550);">762</span>
<span class="t" style="font-size:31.5px;font-weight:400;color:#2f2b2c;left:1245.70px;top:1770.00px;transform:translateX(-50%) scaleX(0.8550);">610</span>
<span class="t" style="font-size:31.5px;font-weight:400;color:#2f2b2c;left:1476.20px;top:1770.00px;transform:translateX(-50%) scaleX(0.8550);">755</span>
<span class="t" style="font-size:31.5px;font-weight:400;color:#2f2b2c;left:1080.70px;top:1828.00px;transform:translateX(-50%) scaleX(0.8550);">915</span>
<span class="t" style="font-size:31.5px;font-weight:400;color:#2f2b2c;left:1245.70px;top:1829.00px;transform:translateX(-50%) scaleX(0.8550);">610</span>
<span class="t" style="font-size:31.5px;font-weight:400;color:#2f2b2c;left:1476.20px;top:1829.00px;transform:translateX(-50%) scaleX(0.8550);">905</span>
<span class="t" style="font-size:31.5px;font-weight:400;color:#2f2b2c;left:1080.70px;top:1887.00px;transform:translateX(-50%) scaleX(0.8550);">1220</span>
<span class="t" style="font-size:31.5px;font-weight:400;color:#2f2b2c;left:1245.70px;top:1888.00px;transform:translateX(-50%) scaleX(0.8550);">610</span>
<span class="t" style="font-size:31.5px;font-weight:400;color:#2f2b2c;left:1476.20px;top:1888.00px;transform:translateX(-50%) scaleX(0.8550);">1205</span>
<span class="t" style="font-size:31.5px;font-weight:400;color:#2f2b2c;left:1080.70px;top:1946.00px;transform:translateX(-50%) scaleX(0.8550);">1525</span>
<span class="t" style="font-size:31.5px;font-weight:400;color:#2f2b2c;left:1245.70px;top:1947.00px;transform:translateX(-50%) scaleX(0.8550);">610</span>
<span class="t" style="font-size:31.5px;font-weight:400;color:#2f2b2c;left:1476.20px;top:1947.00px;transform:translateX(-50%) scaleX(0.8550);">1505</span>
<span class="t" style="font-size:31.5px;font-weight:400;color:#2f2b2c;left:1080.70px;top:2005.00px;transform:translateX(-50%) scaleX(0.8550);">1830</span>
<span class="t" style="font-size:31.5px;font-weight:400;color:#2f2b2c;left:1245.70px;top:2006.00px;transform:translateX(-50%) scaleX(0.8550);">610</span>
<span class="t" style="font-size:31.5px;font-weight:400;color:#2f2b2c;left:1476.20px;top:2006.00px;transform:translateX(-50%) scaleX(0.8550);">1810</span>
<span class="t" style="font-size:31.5px;font-weight:700;color:#fff;left:1818.60px;top:1433.00px;transform:translateX(-50%) scaleX(0.8785);">Abmessungen [mm]</span>
<span class="t" style="font-size:31.5px;font-weight:700;color:#fff;left:1736.10px;top:1474.00px;transform:translateX(-50%) scaleX(0.8959);">Breite</span>
<span class="t" style="font-size:31.5px;font-weight:700;color:#fff;left:1901.10px;top:1474.00px;transform:translateX(-50%) scaleX(0.8635);">Höhe</span>
<span class="t" style="font-size:31.5px;font-weight:700;color:#fff;left:2131.60px;top:1433.00px;transform:translateX(-50%) scaleX(0.8925);">Nennvolumenstrom</span>
<span class="t" style="font-size:31.5px;font-weight:700;color:#fff;left:2131.60px;top:1474.00px;transform:translateX(-50%) scaleX(0.9278);">[m<span style="font-size:62%;position:relative;top:-0.38em">3</span>/h]</span>
<span class="t" style="font-size:31.5px;font-weight:400;color:#2f2b2c;left:1736.10px;top:1533.00px;transform:translateX(-50%) scaleX(0.8550);">762</span>
<span class="t" style="font-size:31.5px;font-weight:400;color:#2f2b2c;left:1901.10px;top:1534.00px;transform:translateX(-50%) scaleX(0.8550);">762</span>
<span class="t" style="font-size:31.5px;font-weight:400;color:#2f2b2c;left:2131.60px;top:1534.00px;transform:translateX(-50%) scaleX(0.8550);">940</span>
<span class="t" style="font-size:31.5px;font-weight:400;color:#2f2b2c;left:1736.10px;top:1592.00px;transform:translateX(-50%) scaleX(0.8550);">915</span>
<span class="t" style="font-size:31.5px;font-weight:400;color:#2f2b2c;left:1901.10px;top:1593.00px;transform:translateX(-50%) scaleX(0.8550);">762</span>
<span class="t" style="font-size:31.5px;font-weight:400;color:#2f2b2c;left:2131.60px;top:1593.00px;transform:translateX(-50%) scaleX(0.8550);">1130</span>
<span class="t" style="font-size:31.5px;font-weight:400;color:#2f2b2c;left:1736.10px;top:1651.00px;transform:translateX(-50%) scaleX(0.8550);">1220</span>
<span class="t" style="font-size:31.5px;font-weight:400;color:#2f2b2c;left:1901.10px;top:1652.00px;transform:translateX(-50%) scaleX(0.8550);">762</span>
<span class="t" style="font-size:31.5px;font-weight:400;color:#2f2b2c;left:2131.60px;top:1652.00px;transform:translateX(-50%) scaleX(0.8550);">1505</span>
<span class="t" style="font-size:31.5px;font-weight:400;color:#2f2b2c;left:1736.10px;top:1710.00px;transform:translateX(-50%) scaleX(0.8550);">1525</span>
<span class="t" style="font-size:31.5px;font-weight:400;color:#2f2b2c;left:1901.10px;top:1711.00px;transform:translateX(-50%) scaleX(0.8550);">762</span>
<span class="t" style="font-size:31.5px;font-weight:400;color:#2f2b2c;left:2131.60px;top:1711.00px;transform:translateX(-50%) scaleX(0.8550);">1880</span>
<span class="t" style="font-size:31.5px;font-weight:400;color:#2f2b2c;left:1736.10px;top:1769.00px;transform:translateX(-50%) scaleX(0.8550);">1830</span>
<span class="t" style="font-size:31.5px;font-weight:400;color:#2f2b2c;left:1901.10px;top:1770.00px;transform:translateX(-50%) scaleX(0.8550);">762</span>
<span class="t" style="font-size:31.5px;font-weight:400;color:#2f2b2c;left:2131.60px;top:1770.00px;transform:translateX(-50%) scaleX(0.8550);">2260</span>
<span class="t" style="font-size:31.5px;font-weight:400;color:#2f2b2c;left:1736.10px;top:1828.00px;transform:translateX(-50%) scaleX(0.8550);">915</span>
<span class="t" style="font-size:31.5px;font-weight:400;color:#2f2b2c;left:1901.10px;top:1829.00px;transform:translateX(-50%) scaleX(0.8550);">915</span>
<span class="t" style="font-size:31.5px;font-weight:400;color:#2f2b2c;left:2131.60px;top:1829.00px;transform:translateX(-50%) scaleX(0.8550);">1355</span>
<span class="t" style="font-size:31.5px;font-weight:400;color:#2f2b2c;left:1736.10px;top:1887.00px;transform:translateX(-50%) scaleX(0.8550);">1220</span>
<span class="t" style="font-size:31.5px;font-weight:400;color:#2f2b2c;left:1901.10px;top:1888.00px;transform:translateX(-50%) scaleX(0.8550);">915</span>
<span class="t" style="font-size:31.5px;font-weight:400;color:#2f2b2c;left:2131.60px;top:1888.00px;transform:translateX(-50%) scaleX(0.8550);">1805</span>
<span class="t" style="font-size:31.5px;font-weight:400;color:#2f2b2c;left:1736.10px;top:1946.00px;transform:translateX(-50%) scaleX(0.8550);">1525</span>
<span class="t" style="font-size:31.5px;font-weight:400;color:#2f2b2c;left:1901.10px;top:1947.00px;transform:translateX(-50%) scaleX(0.8550);">915</span>
<span class="t" style="font-size:31.5px;font-weight:400;color:#2f2b2c;left:2131.60px;top:1947.00px;transform:translateX(-50%) scaleX(0.8550);">2260</span>
<span class="t" style="font-size:31.5px;font-weight:400;color:#2f2b2c;left:1736.10px;top:2005.00px;transform:translateX(-50%) scaleX(0.8550);">1830</span>
<span class="t" style="font-size:31.5px;font-weight:400;color:#2f2b2c;left:1901.10px;top:2006.00px;transform:translateX(-50%) scaleX(0.8550);">915</span>
<span class="t" style="font-size:31.5px;font-weight:400;color:#2f2b2c;left:2131.60px;top:2006.00px;transform:translateX(-50%) scaleX(0.8550);">2710</span>
<span class="t" style="font-size:37px;font-weight:700;color:#2f2b2c;left:996.00px;top:2087.00px;transform-origin:0 0;transform:scaleX(0.9148);">Druckdifferenzdiagramm EN1822 H14</span>
<span class="t" style="font-size:29px;font-weight:400;color:#2f2b2c;left:2083.00px;top:2167.00px;transform-origin:0 0;transform:scaleX(0.8850);">30 mm</span>
<span class="t" style="font-size:29px;font-weight:400;color:#2f2b2c;left:2083.00px;top:2219.00px;transform-origin:0 0;transform:scaleX(0.8850);">66, 69 mm</span>
<span class="t" style="font-size:29px;font-weight:400;color:#2f2b2c;left:2083.00px;top:2271.00px;transform-origin:0 0;transform:scaleX(0.8850);">78, 94 mm</span>
<span class="t" style="font-size:29px;font-weight:400;color:#2f2b2c;left:2083.00px;top:2323.00px;transform-origin:0 0;transform:scaleX(0.8850);">90, 109, 130 mm</span>
<span class="t" style="font-size:29px;font-weight:400;color:#2f2b2c;left:2083.00px;top:2375.00px;transform-origin:0 0;transform:scaleX(0.8850);">115 mm</span>
<span class="t" style="font-size:29px;font-weight:400;color:#2f2b2c;left:2083.00px;top:2427.00px;transform-origin:0 0;transform:scaleX(0.8850);">150 mm</span>
<span class="t" style="font-size:33px;font-weight:400;color:#2f2b2c;right:1377.50px;top:2561.00px;transform-origin:100% 0;transform:scaleX(0.8800);">0</span>
<span class="t" style="font-size:33px;font-weight:400;color:#2f2b2c;right:1377.50px;top:2458.00px;transform-origin:100% 0;transform:scaleX(0.8800);">50</span>
<span class="t" style="font-size:33px;font-weight:400;color:#2f2b2c;right:1377.50px;top:2356.00px;transform-origin:100% 0;transform:scaleX(0.8800);">100</span>
<span class="t" style="font-size:33px;font-weight:400;color:#2f2b2c;right:1377.50px;top:2253.00px;transform-origin:100% 0;transform:scaleX(0.8800);">150</span>
<span class="t" style="font-size:33px;font-weight:400;color:#2f2b2c;right:1377.50px;top:2151.00px;transform-origin:100% 0;transform:scaleX(0.8800);">200</span>
<span class="t" style="font-size:33.5px;font-weight:400;color:#2f2b2c;left:1230.20px;top:2598.00px;transform:translateX(-50%) scaleX(0.8850);">25%</span>
<span class="t" style="font-size:33.5px;font-weight:400;color:#2f2b2c;left:1381.40px;top:2598.00px;transform:translateX(-50%) scaleX(0.8850);">50%</span>
<span class="t" style="font-size:33.5px;font-weight:400;color:#2f2b2c;left:1532.60px;top:2598.00px;transform:translateX(-50%) scaleX(0.8850);">75%</span>
<span class="t" style="font-size:33.5px;font-weight:400;color:#2f2b2c;left:1683.80px;top:2598.00px;transform:translateX(-50%) scaleX(0.8850);">100%</span>
<span class="t" style="font-size:33.5px;font-weight:400;color:#2f2b2c;left:1835.00px;top:2598.00px;transform:translateX(-50%) scaleX(0.8850);">125%</span>
<span class="t" style="font-size:27px;font-weight:400;color:#2f2b2c;letter-spacing:1.199px;left:1529.50px;top:2654.00px;transform:translateX(-50%) scaleX(0.9000);">Nennvolumenstrom [m<span style="font-size:62%;position:relative;top:-0.4em">3</span>/h]</span>
<span class="t" style="font-size:27px;font-weight:400;color:#2f2b2c;letter-spacing:0.819px;left:1034px;top:2371px;transform-origin:0 0;transform:rotate(-90deg) scaleX(0.9000) translate(-50%,-22.86px);">Anfangsdruckdifferenz [Pa]</span>
<span class="t" style="font-size:32.5px;font-weight:400;color:#2f2b2c;-webkit-text-stroke:0.9px #2f2b2c;left:1020.40px;top:2930.00px;transform-origin:0 0;transform:scaleX(0.9072);">Betriebsumgebung</span>
<span class="t" style="font-size:32.5px;font-weight:400;color:#2f2b2c;left:1431.60px;top:2930.00px;transform-origin:0 0;transform:scaleX(0.8760);">max. relative Luftfeuchte 100 [%]</span>
<span class="t" style="font-size:32.5px;font-weight:400;color:#2f2b2c;left:1431.60px;top:2981.00px;transform-origin:0 0;transform:scaleX(0.8760);">temperaturbeständig bis max. 65 [°C]</span>
<span class="t" style="font-size:32.5px;font-weight:400;color:#2f2b2c;left:1431.60px;top:3031.00px;transform-origin:0 0;transform:scaleX(0.8760);">optional bis max. 120 [°C]</span>
<span class="t" style="font-size:32.5px;font-weight:400;color:#2f2b2c;left:1431.60px;top:3081.00px;transform-origin:0 0;transform:scaleX(0.8760);">bei hoher Luftfeuchte ist ein temporärer Anstieg</span>
<span class="t" style="font-size:32.5px;font-weight:400;color:#2f2b2c;left:1431.60px;top:3131.00px;transform-origin:0 0;transform:scaleX(0.8760);">der Druckdifferenz möglich.</span>
<span class="t" style="font-size:21.8px;font-weight:400;color:#2f2b2c;left:2339.2px;top:2819.8px;transform-origin:0 0;transform:rotate(-90deg) scaleX(0.8462) translate(-50%,-18.45px);">Technische Änderungen vorbehalten. Stand: Mai 2015</span>
<span class="t" style="font-size:34.4px;font-weight:400;color:#fff;left:117.00px;top:3292.00px;transform-origin:0 0;transform:scaleX(0.8538);">HS-Luftfilterbau GmbH</span>
<span class="t" style="font-size:34.4px;font-weight:400;color:#fff;left:117.00px;top:3333.00px;transform-origin:0 0;transform:scaleX(0.8113);">Bunsenstraße 31</span>
<span class="t" style="font-size:34.4px;font-weight:400;color:#fff;left:117.00px;top:3375.00px;transform-origin:0 0;transform:scaleX(0.8228);">D-24145 Kiel</span>
<span class="t" style="font-size:34.4px;font-weight:400;color:#fff;left:117.00px;top:3416.00px;transform-origin:0 0;transform:scaleX(0.8244);">Germany</span>
<span class="t" style="font-size:34.4px;font-weight:400;color:#fff;left:506.60px;top:3292.00px;transform-origin:0 0;transform:scaleX(0.8613);">Tel.: +49 (0) 431 71953 0</span>
<span class="t" style="font-size:34.4px;font-weight:400;color:#fff;left:506.60px;top:3333.00px;transform-origin:0 0;transform:scaleX(0.8526);">Fax: +49 (0) 431 71953 30</span>
<span class="t" style="font-size:34.4px;font-weight:400;color:#fff;left:506.60px;top:3375.00px;transform-origin:0 0;transform:scaleX(0.9188);">www.luftfilterbau.de</span>
<span class="t" style="font-size:34.4px;font-weight:400;color:#fff;left:506.60px;top:3416.00px;transform-origin:0 0;transform:scaleX(0.8998);">info@luftfilterbau.de</span>
<span class="t" style="font-size:34.4px;font-weight:400;color:#fff;left:1239.90px;top:3292.00px;transform:translateX(-50%) scaleX(0.8760);">Dok.-ID: 07/D07</span>
<span class="t" style="font-size:34.4px;font-weight:400;color:#fff;left:1239.90px;top:3333.00px;transform:translateX(-50%) scaleX(0.8766);">Seite 3/6</span>
</div></body></html>
